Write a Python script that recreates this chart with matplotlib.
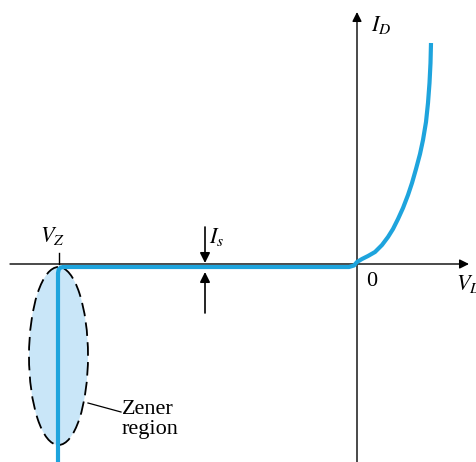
import matplotlib.pyplot as plt
from matplotlib.patches import Ellipse

plt.rcParams['mathtext.fontset'] = 'stix'
plt.rcParams['font.family'] = ['Liberation Serif', 'DejaVu Serif']

# diode characteristic (origin at the axes crossing)
reverse_v = [-299, -299, -298.3, -296.5, -294, -8, -3, 0]
reverse_i = [-198, -9, -5.5, -3.6, -3, -3, -1.5, 2]
forward_v = [5, 11, 18, 25, 31, 36, 41, 46, 51, 55, 59, 63, 66, 69, 71,
             72.5, 73.5, 74]
forward_i = [5, 8, 12, 19, 27, 35, 45, 56, 69, 81, 95, 110, 124, 142, 161,
             181, 201, 221]

v_zener = -298
zener_center = (-298.5, -92)
zener_size = (59, 178)
i_s_pos = -152

blue = '#1ea4dd'
fill = '#c9e6f8'

fig = plt.figure(figsize=(4.76, 4.62), dpi=100)
ax = fig.add_axes([0, 0, 1, 1])
ax.set_xlim(-357, 119)
ax.set_ylim(-198, 264)
ax.axis('off')

# axes with arrows
ax.annotate('', xy=(112, 0), xytext=(-347, 0),
            arrowprops=dict(arrowstyle='-|>', color='black', lw=1.0,
                            mutation_scale=14, shrinkA=0, shrinkB=0))
ax.annotate('', xy=(0, 252), xytext=(0, -198),
            arrowprops=dict(arrowstyle='-|>', color='black', lw=1.0,
                            mutation_scale=14, shrinkA=0, shrinkB=0))

# zener region ellipse
ell = Ellipse(zener_center, zener_size[0], zener_size[1], facecolor=fill,
              edgecolor='black', lw=1.3, ls=(0, (7.5, 3.5)), zorder=2)
ax.add_patch(ell)

# V_Z tick
ax.plot([v_zener, v_zener], [0, 11], color='black', lw=1.0, zorder=3)

# curve
ax.plot(reverse_v + forward_v, reverse_i + forward_i, color=blue, lw=3.0,
        solid_joinstyle='round', solid_capstyle='butt', zorder=4)

# I_s arrows
ax.annotate('', xy=(i_s_pos, 1), xytext=(i_s_pos, 37),
            arrowprops=dict(arrowstyle='-|>', color='black', lw=1.2,
                            mutation_scale=15, shrinkA=0, shrinkB=0))
ax.annotate('', xy=(i_s_pos, -8), xytext=(i_s_pos, -49),
            arrowprops=dict(arrowstyle='-|>', color='black', lw=1.2,
                            mutation_scale=15, shrinkA=0, shrinkB=0))

# leader line for Zener region
ax.plot([-269, -236], [-139, -148], color='black', lw=0.9, zorder=3)

fs = 16
ax.text(-317, 17, r'$V_Z$', fontsize=fs, ha='left', va='bottom')
ax.text(-148, 16, r'$I_s$', fontsize=fs, ha='left', va='bottom')
ax.text(14, 228, r'$I_D$', fontsize=fs, ha='left', va='bottom')
ax.text(9, -8, '0', fontsize=fs, ha='left', va='top')
ax.text(99, -9, r'$V_D$', fontsize=fs, ha='left', va='top')
ax.text(-235, -136, 'Zener\nregion', fontsize=fs, ha='left', va='top',
        linespacing=1.05)

fig.savefig('out.png', dpi=100)
